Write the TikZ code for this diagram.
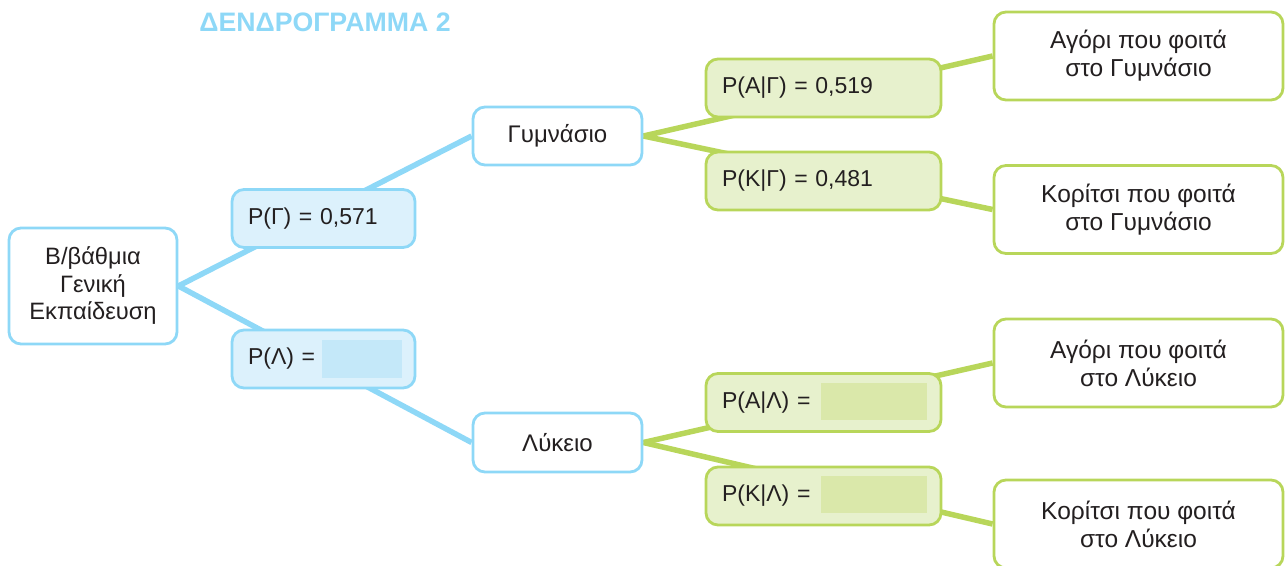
\documentclass[tikz,border=0pt]{standalone}
\usepackage{fontspec}
\setmainfont{Liberation Sans}
\usetikzlibrary{backgrounds}
\definecolor{bline}{HTML}{8ED8F7}
\definecolor{bfill}{HTML}{DCF1FC}
\definecolor{binner}{HTML}{C4E8F9}
\definecolor{gline}{HTML}{B8D65A}
\definecolor{gfill}{HTML}{E7F1CD}
\definecolor{ginner}{HTML}{DAE8AA}
\definecolor{txt}{HTML}{231F20}
\begin{document}
\begin{tikzpicture}[x=1pt,y=-1pt,
  box/.style={draw, line width=2.8pt, rounded corners=12pt, inner sep=0pt, align=center, text=txt, font=\fontsize{23}{27.5}\selectfont},
  bluebox/.style={box, draw=bline, fill=white},
  leafbox/.style={box, draw=gline, fill=white, minimum width=289pt, minimum height=88pt, font=\fontsize{24.5}{28}\selectfont},
  probb/.style={box, draw=bline, fill=bfill, text width=151pt, inner xsep=16pt, inner ysep=0pt, align=left, minimum height=58pt},
  probg/.style={box, draw=gline, fill=gfill, text width=203pt, inner xsep=16pt, inner ysep=0pt, align=left, minimum height=58pt},
  blankb/.style={fill=binner, inner sep=0pt},
  blankg/.style={fill=ginner, inner sep=0pt},
  bconn/.style={draw=bline, line width=5.5pt},
  gconn/.style={draw=gline, line width=5.5pt},
  title/.style={text=bline, font=\fontsize{26.7}{30}\selectfont\bfseries, inner sep=0pt}
]
\useasboundingbox (0,0) rectangle (1285,565);
\node[title] (ttl) at (325,22) {ΔΕΝΔΡΟΓΡΑΜΜΑ 2};

\node[bluebox, minimum width=168pt, minimum height=116pt, font=\fontsize{23.7}{27.5}\selectfont] (root) at (93,286) {Β/βάθμια\\Γενική\\Εκπαίδευση};
\node[probb] (pg) at (323.5,218.5) {P(Γ) = 0,571};
\node[probb] (pl) at (323.5,359) {P(Λ) =};
\node[blankb, minimum width=80pt, minimum height=38pt] (plb) at (362,359) {};

\node[bluebox, minimum width=169pt, minimum height=58pt, font=\fontsize{24}{28}\selectfont] (gym) at (557.5,136) {Γυμνάσιο};
\node[bluebox, minimum width=169pt, minimum height=59pt, font=\fontsize{24}{28}\selectfont] (lyk) at (557.5,442.5) {Λύκειο};

\node[probg] (pag) at (823.5,88) {P(Α|Γ) = 0,519};
\node[probg] (pkg) at (823.5,181) {P(Κ|Γ) = 0,481};
\node[probg] (pal) at (823.5,402.5) {P(Α|Λ) =};
\node[blankg, minimum width=106pt, minimum height=37pt] (palb) at (874,401.5) {};
\node[probg] (pkl) at (823.5,496) {P(Κ|Λ) =};
\node[blankg, minimum width=106pt, minimum height=37pt] (pklb) at (874,494.5) {};

\node[leafbox] (ag1) at (1138.5,56) {Αγόρι που φοιτά\\στο Γυμνάσιο};
\node[leafbox] (ko1) at (1138.5,209.5) {Κορίτσι που φοιτά\\στο Γυμνάσιο};
\node[leafbox] (ag2) at (1138.5,363) {Αγόρι που φοιτά\\στο Λύκειο};
\node[leafbox] (ko2) at (1138.5,524) {Κορίτσι που φοιτά\\στο Λύκειο};

\begin{scope}[on background layer]
\draw[bconn] (root.east) -- (gym.west);
\draw[bconn] (root.east) -- (lyk.west);
\draw[gconn] (gym.east) -- (ag1.west);
\draw[gconn] (gym.east) -- (ko1.west);
\draw[gconn] (lyk.east) -- (ag2.west);
\draw[gconn] (lyk.east) -- (ko2.west);
\end{scope}
\end{tikzpicture}
\end{document}
